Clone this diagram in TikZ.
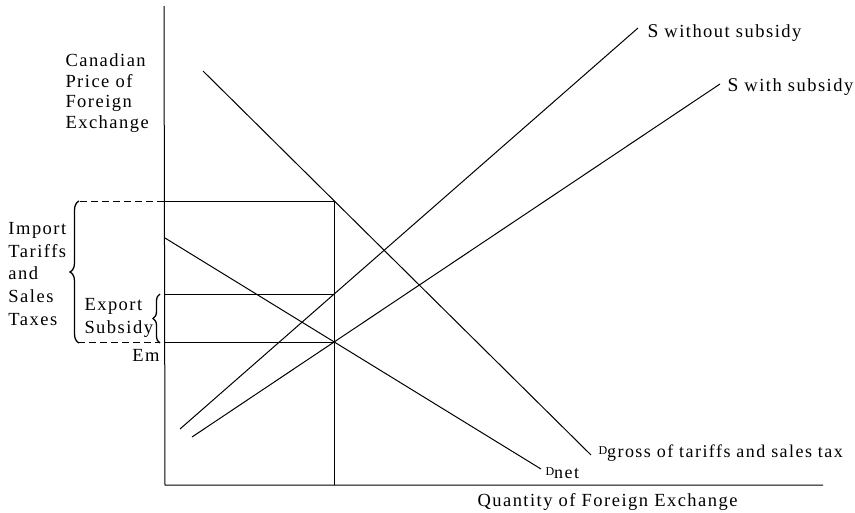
\documentclass[tikz,border=0pt]{standalone}
\usepackage{fontspec}
\setmainfont{Liberation Serif}[LetterSpace=8]
\usetikzlibrary{decorations.pathreplacing}
\begin{document}
\begin{tikzpicture}[x=1pt,y=-1pt,line width=1pt,
  lab/.style={inner sep=0pt,font=\fontsize{18.5}{21}\selectfont},
  blk/.style={lab,align=left},
  dsh/.style={dash pattern=on 7pt off 4pt},
  brc/.style={decorate,decoration={brace,amplitude=#1}}]
\useasboundingbox (0,0) rectangle (855,512);
% axes
\coordinate (Ytop) at (164,6);
\coordinate (O) at (165,485);
\coordinate (Xend) at (823,485);
\draw (Ytop) -- (O) -- (Xend);
% key points
\coordinate (A) at (334,201);
\coordinate (B) at (334,294);
\coordinate (E) at (334,342);
\coordinate (Q) at (334,485);
\coordinate (PA) at (165,201);
\coordinate (PB) at (165,294);
\coordinate (PE) at (165,342);
\coordinate (BA) at (80,201);
\coordinate (BE) at (78,342);
\coordinate (SE) at (160,342);
\draw (A) -- (Q);
\draw (PA) -- (A);
\draw (PB) -- (B);
\draw (PE) -- (E);
\draw[dsh] (BA) -- (PA);
\draw[dsh] (BE) -- (SE);
% braces
\coordinate (bb1) at (79,343);
\coordinate (bb2) at (79,201);
\draw[brc=9pt,line width=1.3pt] (bb1) -- (bb2);
\coordinate (sb1) at (160,343);
\coordinate (sb2) at (160,294);
\draw[brc=7pt,line width=1.3pt] (sb1) -- (sb2);
% curves
\coordinate (dg1) at (203,71);
\coordinate (dg2) at (591,455);
\draw (dg1) -- (dg2);
\coordinate (dn1) at (165,238);
\coordinate (dn2) at (541,469);
\draw (dn1) -- (dn2);
\coordinate (sw1) at (180,429);
\coordinate (sw2) at (638,28);
\draw (sw1) -- (sw2);
\coordinate (ss1) at (192,437);
\coordinate (ss2) at (720,84);
\draw (ss1) -- (ss2);
% labels
\node[blk,anchor=north west,font=\fontsize{18.5}{20.7}\selectfont] (ylab) at (65,53) {Canadian\\Price of\\Foreign\\Exchange};
\node[blk,anchor=north west,font=\fontsize{18.5}{22.6}\selectfont] (imp) at (8,222) {Import\\Tariffs\\and\\Sales\\Taxes};
\node[blk,anchor=north west,font=\fontsize{18.5}{22.5}\selectfont] (exp) at (84,298) {Export\\Subsidy};
\node[lab,anchor=base east] (em) at (160,361) {Em};
\node[lab,anchor=base west] (xlab) at (477,506) {Quantity of Foreign Exchange};
\node[lab,anchor=base west] (swl) at (647,37) {{\fontsize{19.5}{19}\selectfont S} without subsidy};
\node[lab,anchor=base west] (ssl) at (727,91) {{\fontsize{19.5}{19}\selectfont S} with subsidy};
\node[lab,anchor=base west,font=\fontsize{18}{20}\selectfont] (dgl) at (598,457) {\raisebox{3pt}{\fontsize{12}{12}\selectfont D}gross of tariffs and sales tax};
\node[lab,anchor=base west,font=\fontsize{18}{20}\selectfont] (dnl) at (545,478) {\raisebox{3pt}{\fontsize{12}{12}\selectfont D}net};
\end{tikzpicture}
\end{document}
